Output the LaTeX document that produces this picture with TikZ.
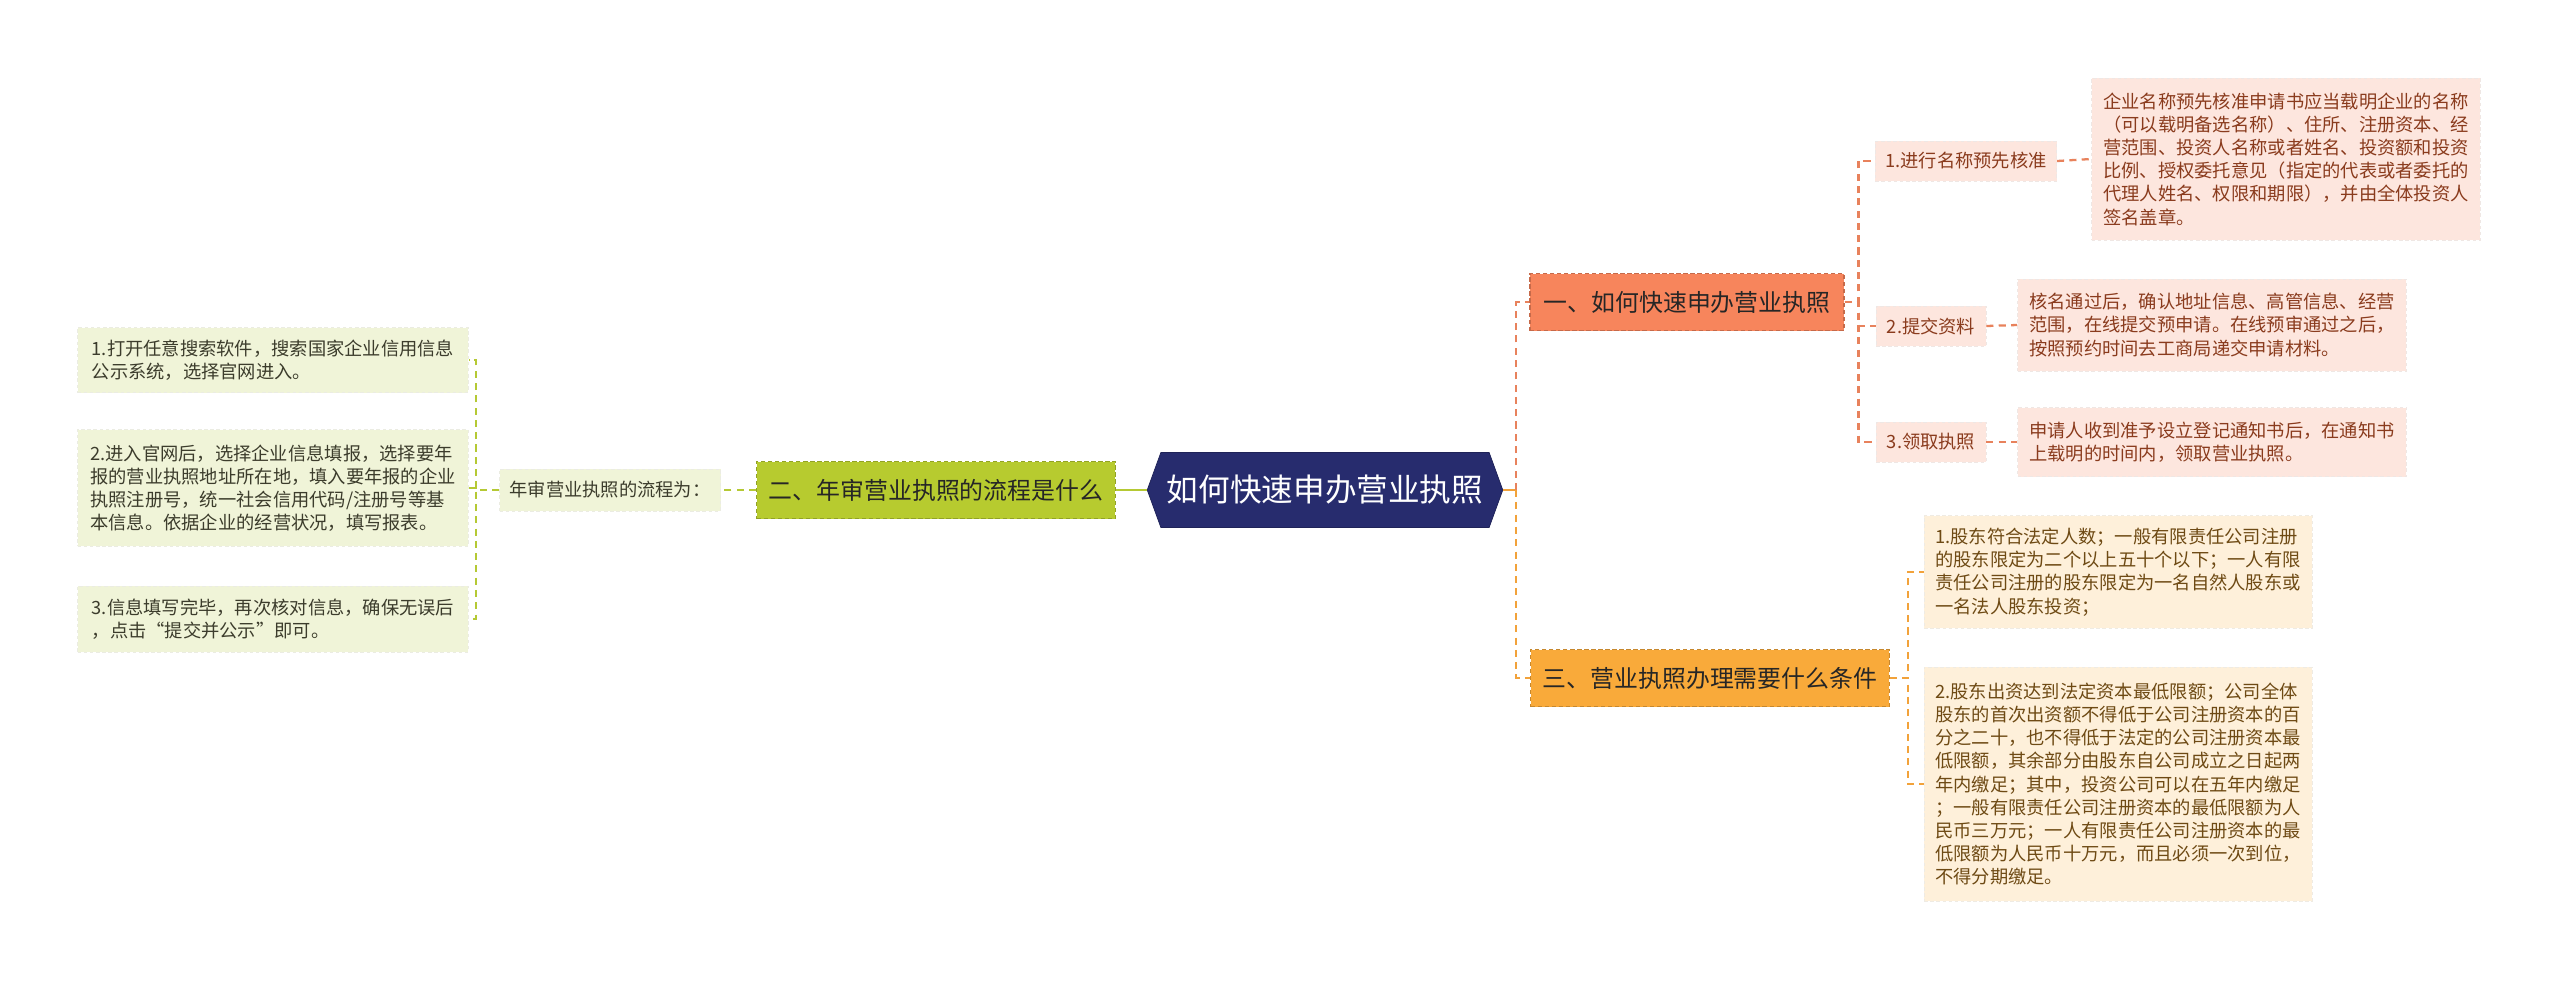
\documentclass[tikz,border=0pt]{standalone}
\usepackage{fontspec}
\setmainfont{Noto Sans CJK SC}
\usetikzlibrary{shapes.symbols}

\definecolor{rootbg}{HTML}{272C6E}
\definecolor{onebg}{HTML}{F7855C}
\definecolor{oneln}{HTML}{E8825C}
\definecolor{onelf}{HTML}{FDE6DE}
\definecolor{onetx}{HTML}{8A3B1D}
\definecolor{twobg}{HTML}{B7CB2F}
\definecolor{twoln}{HTML}{B5C934}
\definecolor{twolf}{HTML}{F0F4D8}
\definecolor{twotx}{HTML}{3C3C2C}
\definecolor{thrbg}{HTML}{F9AA3A}
\definecolor{thrln}{HTML}{F2A23A}
\definecolor{thrlf}{HTML}{FEF0DA}
\definecolor{thrtx}{HTML}{6E4A14}

\tikzset{
  leaf/.style={draw=#1!85!black!40, fill=#1, dash pattern=on 2pt off 1.5pt,
    line width=0.5pt, align=left, inner sep=0.2cm,
    font=\fontsize{10.4}{13.2}\selectfont},
  topic/.style={draw=#1!80!black, fill=#1, dash pattern=on 2.5pt off 1.5pt,
    line width=0.7pt, align=center, minimum height=1.14cm,
    font=\fontsize{13.6}{16}\selectfont},
  link/.style={line width=1.3pt, dash pattern=on 4pt off 3pt},
}

\begin{document}
\begin{tikzpicture}[x=0.02cm,y=-0.02cm]
        \useasboundingbox (0,0) rectangle (2560,981) ;
        % centre
        \node[signal, signal to=west and east, signal pointer angle=140,
          fill=rootbg, draw=rootbg!80!black, minimum height=1.5cm, inner xsep=0.12cm,
          text=white, font=\fontsize{18}{20}\selectfont] (root) at (1325,490) {如何快速申办营业执照} ;
        % right, first topic
        \node[topic=onebg, minimum width=6.28cm, text=black!85] (one) at (1687,302) {一、如何快速申办营业执照} ;
        \node[leaf=onelf, text=onetx, minimum width=3.6cm, minimum height=0.8cm] (reg) at (1966,161) {1.进行名称预先核准} ;
        \node[leaf=onelf, text=onetx, minimum width=2.2cm, minimum height=0.8cm] (sub) at (1931,326) {2.提交资料} ;
        \node[leaf=onelf, text=onetx, minimum width=2.2cm, minimum height=0.8cm] (get) at (1931,442) {3.领取执照} ;
        \node[leaf=onelf, text=onetx, minimum width=7.78cm, minimum height=3.24cm] (regtxt) at (2286,159)
          {企业名称预先核准申请书应当载明企业的名称\\（可以载明备选名称）、住所、注册资本、经\\营范围、投资人名称或者姓名、投资额和投资\\比例、授权委托意见（指定的代表或者委托的\\代理人姓名、权限和期限），并由全体投资人\\签名盖章。} ;
        \node[leaf=onelf, text=onetx, minimum width=7.78cm, minimum height=1.84cm] (subtxt) at (2212,325)
          {核名通过后，确认地址信息、高管信息、经营\\范围，在线提交预申请。在线预审通过之后，\\按照预约时间去工商局递交申请材料。} ;
        \node[leaf=onelf, text=onetx, minimum width=7.78cm, minimum height=1.38cm] (gettxt) at (2212,442)
          {申请人收到准予设立登记通知书后，在通知书\\上载明的时间内，领取营业执照。} ;
        % right, third topic
        \node[topic=thrbg, minimum width=7.18cm, text=black!85] (three) at (1710,678) {三、营业执照办理需要什么条件} ;
        \node[leaf=thrlf, text=thrtx, minimum width=7.76cm, minimum height=2.26cm] (conda) at (2118,572)
          {1.股东符合法定人数；一般有限责任公司注册\\的股东限定为二个以上五十个以下；一人有限\\责任公司注册的股东限定为一名自然人股东或\\一名法人股东投资；} ;
        \node[leaf=thrlf, text=thrtx, minimum width=7.76cm, minimum height=4.68cm] (condb) at (2118,784)
          {2.股东出资达到法定资本最低限额；公司全体\\股东的首次出资额不得低于公司注册资本的百\\分之二十，也不得低于法定的公司注册资本最\\低限额，其余部分由股东自公司成立之日起两\\年内缴足；其中，投资公司可以在五年内缴足\\；一般有限责任公司注册资本的最低限额为人\\民币三万元；一人有限责任公司注册资本的最\\低限额为人民币十万元，而且必须一次到位，\\不得分期缴足。} ;
        % left, second topic
        \node[topic=twobg, minimum width=7.18cm, text=black!85] (two) at (936,490) {二、年审营业执照的流程是什么} ;
        \node[leaf=twolf, text=twotx, minimum width=4.38cm, minimum height=0.84cm] (flow) at (610,490) {年审营业执照的流程为：} ;
        \node[leaf=twolf, text=twotx, minimum width=7.82cm, minimum height=1.3cm] (flowa) at (273,360)
          {1.打开任意搜索软件，搜索国家企业信用信息\\公示系统，选择官网进入。} ;
        \node[leaf=twolf, text=twotx, minimum width=7.82cm, minimum height=2.34cm] (flowb) at (273,488)
          {2.进入官网后，选择企业信息填报，选择要年\\报的营业执照地址所在地，填入要年报的企业\\执照注册号，统一社会信用代码/注册号等基\\本信息。依据企业的经营状况，填写报表。} ;
        \node[leaf=twolf, text=twotx, minimum width=7.82cm, minimum height=1.32cm] (flowc) at (273,619)
          {3.信息填写完毕，再次核对信息，确保无误后\\，点击“提交并公示”即可。} ;

        % connectors
        \draw[line width=1.3pt, thrln] (root.east) -- ++(13,0) coordinate (trunk) ;
        \draw[link, oneln] (trunk) |- (one.west) ;
        \draw[link, thrln] (trunk) |- (three.west) ;
        \draw[link, oneln] (one.east) -- ++(14,0) |- (reg.west) ;
        \draw[link, oneln] (one.east) -- ++(14,0) |- (sub.west) ;
        \draw[link, oneln] (one.east) -- ++(14,0) |- (get.west) ;
        \draw[link, oneln] (reg.east) -- (regtxt.west) ;
        \draw[link, oneln] (sub.east) -- (subtxt.west) ;
        \draw[link, oneln] (get.east) -- (gettxt.west) ;
        \draw[link, thrln] (three.east) -- ++(18,0) |- (conda.west) ;
        \draw[link, thrln] (three.east) -- ++(18,0) |- (condb.west) ;
        \draw[line width=1.3pt, twoln] (two.east) -- (root.west) ;
        \draw[link, twoln] (two.west) -- (flow.east) ;
        \draw[link, twoln] (flow.west) -- ++(-23,0) |- (flowa.east) ;
        \draw[link, twoln] (flow.west) -- ++(-23,0) |- (flowb.east) ;
        \draw[link, twoln] (flow.west) -- ++(-23,0) |- (flowc.east) ;
      \end{tikzpicture}
\end{document}
